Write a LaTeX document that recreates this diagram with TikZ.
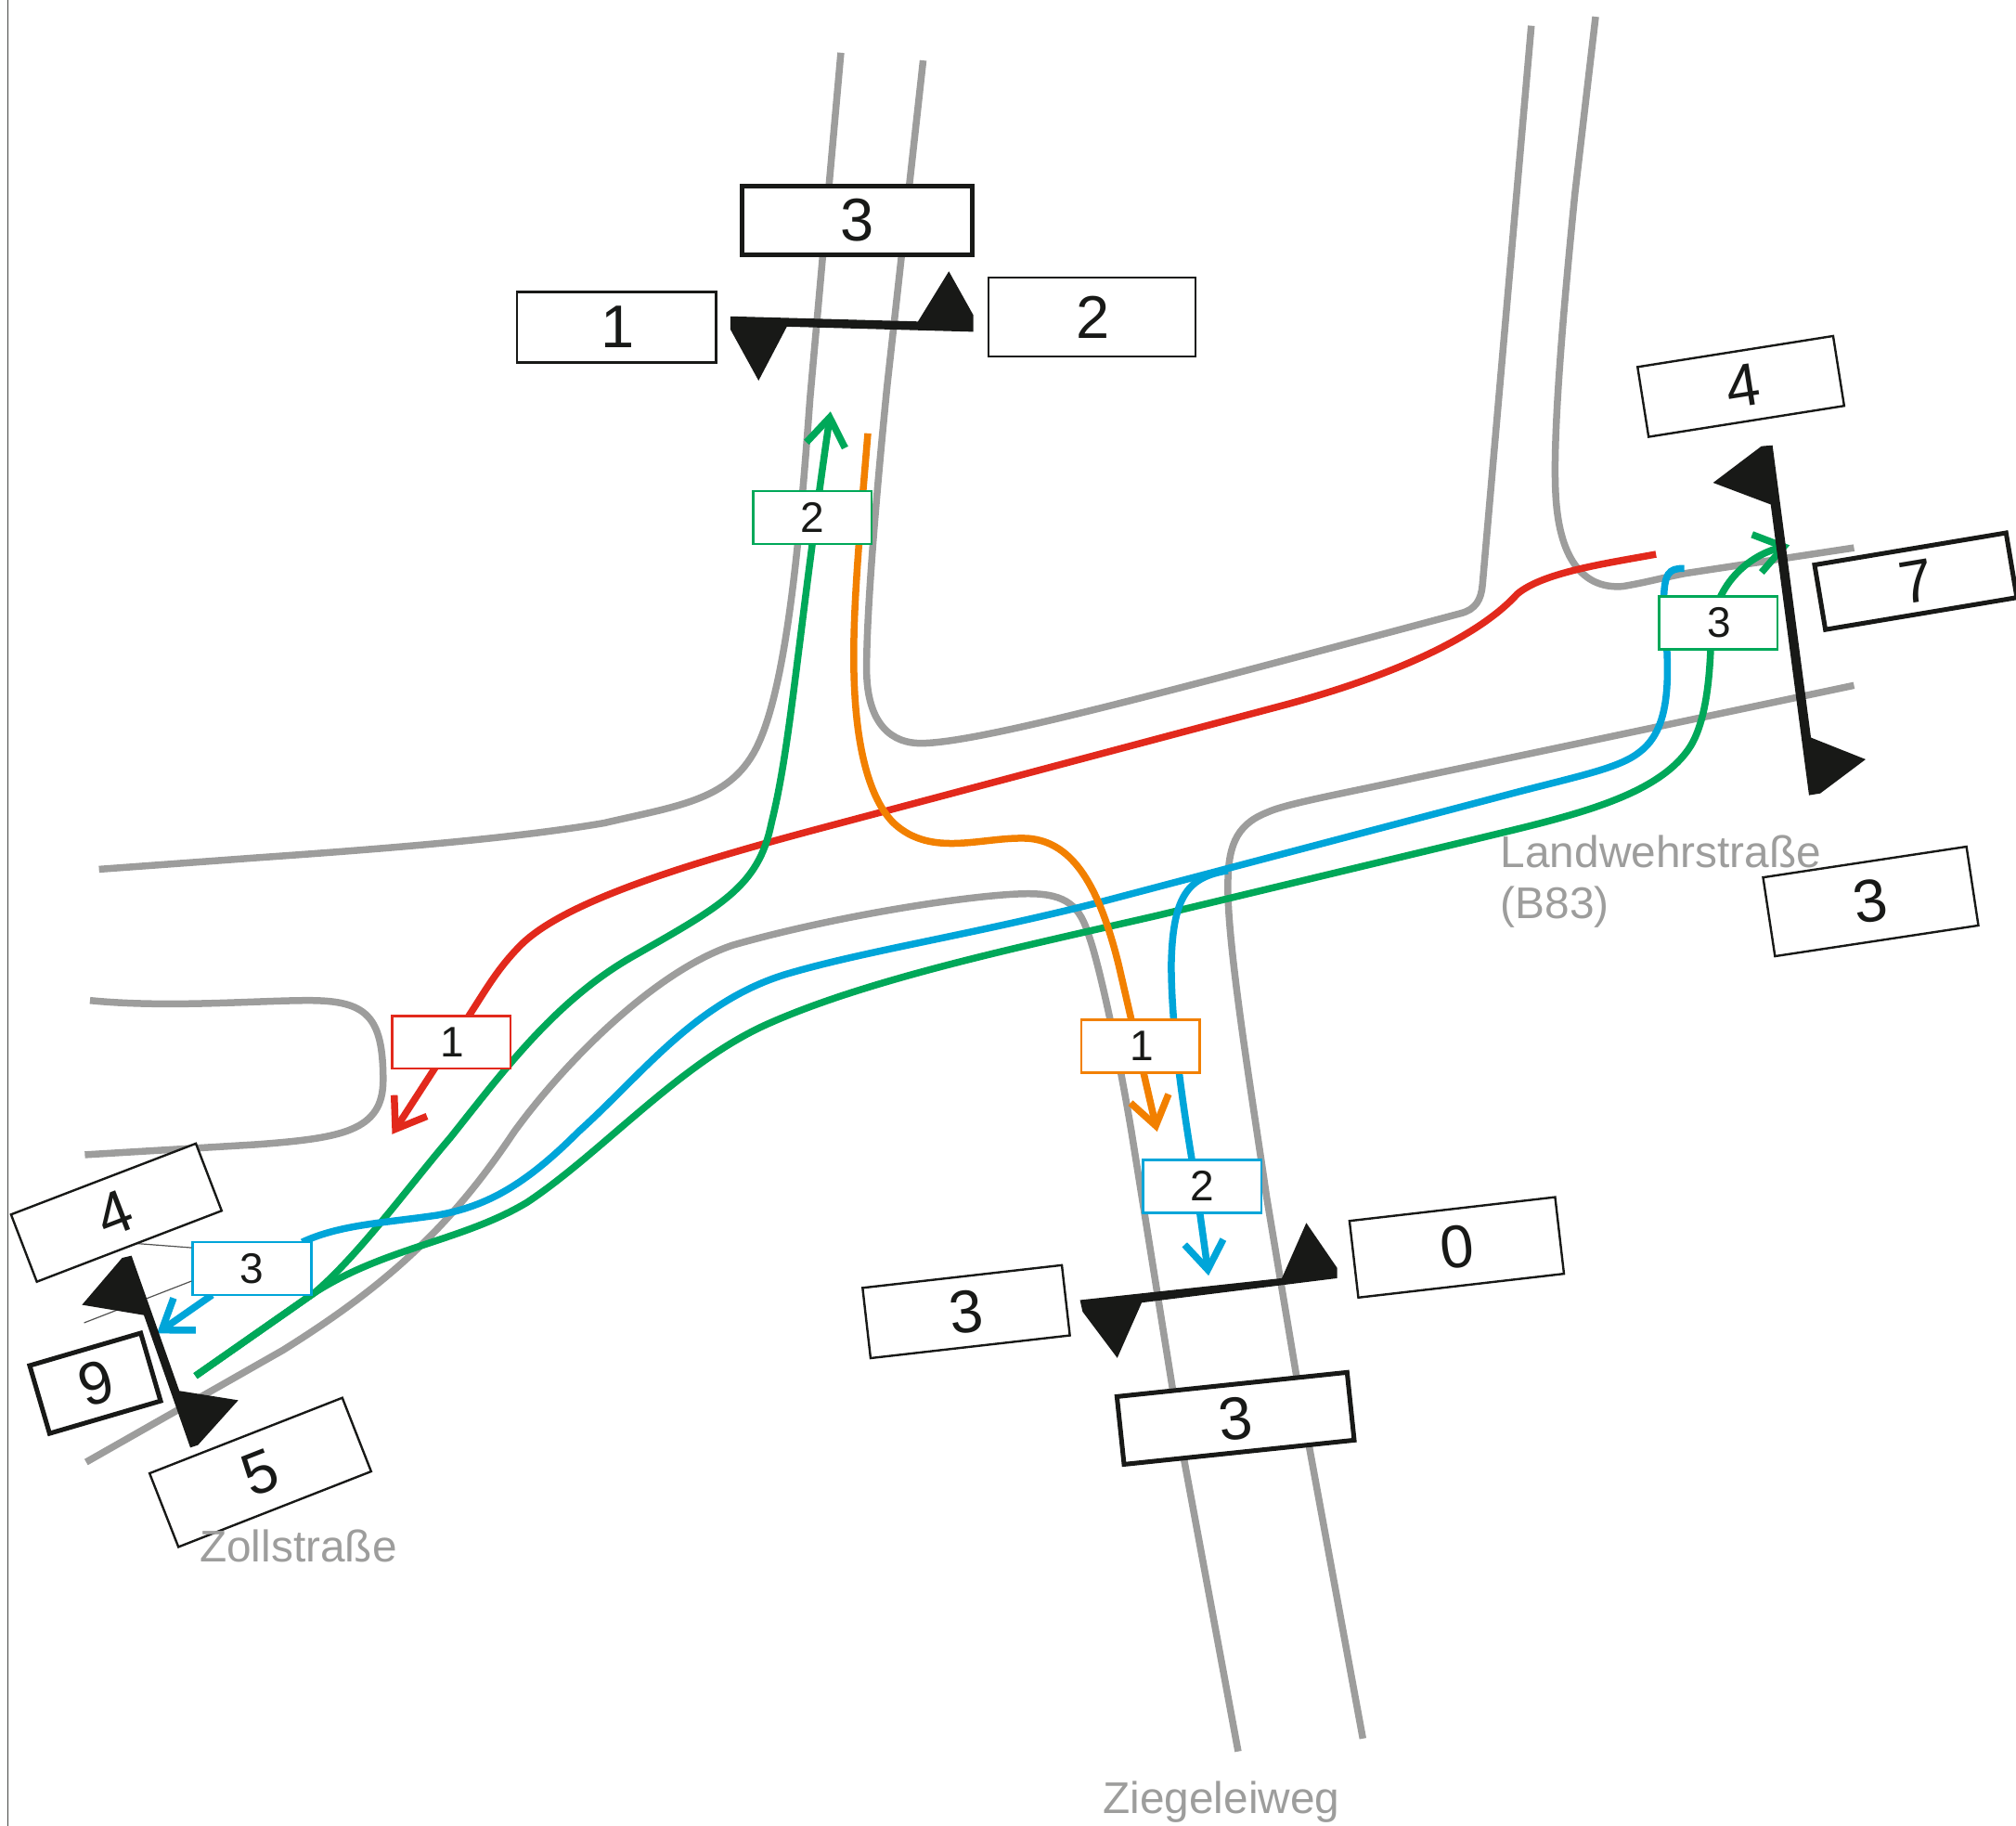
\documentclass[tikz,border=0pt]{standalone}
\usepackage{fontspec}
\setmainfont{Liberation Sans}
\usetikzlibrary{arrows.meta}
\definecolor{roadgray}{HTML}{9D9D9C}
\definecolor{cred}{HTML}{E2291C}
\definecolor{cgreen}{HTML}{00A859}
\definecolor{cblue}{HTML}{00A5D9}
\definecolor{corange}{HTML}{F28000}
\definecolor{cblack}{HTML}{181917}
\tikzset{
  road/.style={draw=roadgray,line width=7.5pt},
  route/.style={line width=7.5pt},
  routearrow/.style={-{Straight Barb[length=30pt,width=42pt,line width=7.5pt]}},
  bx/.style n args={3}{minimum width=#1*1.3852pt,minimum height=#2*1.3852pt,rotate=#3},
  bigbox/.style={draw=cblack,fill=white,line width=2.4pt,inner sep=0pt,text=cblack,font=\fontsize{65}{65}\selectfont},
  boldbox/.style={bigbox,line width=5pt},
  labelbox/.style={draw=#1,fill=white,line width=2.6pt,inner sep=0pt,text=cblack,font=\fontsize{46}{46}\selectfont,
     minimum width=92*1.3852pt,minimum height=41*1.3852pt},
  bar/.style={fill=cblack},
  thin line/.style={draw=cblack!75,line width=1.2pt},
  streetname/.style={text=roadgray,font=\fontsize{47.8}{56}\selectfont,inner sep=0pt},
}
\begin{document}
\begin{tikzpicture}[x=1.3852pt,y=-1.3852pt]
\useasboundingbox (0,0) rectangle (1568,1420);
\draw[draw=cblack!80,line width=1.5pt] (6,0) -- (6,1420);
% roads
\draw[road] (654,41) -- (630,310) .. controls (622,420) and (612,530) .. (590,578) .. controls (570,622) and (530,626) .. (470,640) .. controls (400,652) and (300,660) .. (200,667) -- (77,676);
\draw[road] (718,47) -- (690,300) .. controls (680,400) and (674,480) .. (674,520) .. controls (674,565) and (695,578) .. (716,578) .. controls (760,578) and (900,540) .. (1136,477) .. controls (1148,474) and (1152,466) .. (1153,455) -- (1191,20);
\draw[road] (1241,13) -- (1225,150) .. controls (1212,280) and (1208,350) .. (1210,385) .. controls (1213,440) and (1235,458) .. (1262,456) .. controls (1280,453) and (1290,450) .. (1310,446) -- (1442,426);
\draw[road] (1442,533) -- (1100,605) .. controls (1040,618) and (1000,625) .. (985,632) .. controls (960,642) and (955,660) .. (955,690) .. controls (955,740) and (975,860) .. (985,930) -- (1010,1080) -- (1060,1352);
\draw[road] (963,1362) -- (920,1130) -- (880,880) .. controls (870,820) and (855,750) .. (847,728) .. controls (840,705) and (830,695) .. (800,695) .. controls (760,695) and (650,712) .. (570,735) .. controls (510,755) and (440,825) .. (400,880) .. controls (350,955) and (300,1000) .. (220,1050) -- (67,1137);
\draw[road] (70,778) .. controls (130,784) and (200,778) .. (240,778) .. controls (285,778) and (298,790) .. (298,840) .. controls (298,880) and (265,885) .. (200,890) -- (66,898);
% anchors
\coordinate (t1a) at (106,967); \coordinate (t2a) at (65.4,1028.7);
\coordinate (gs) at (152,1070);
\coordinate (gn) at (646,320);
\coordinate (ge) at (1392,424);
\coordinate (rs) at (1288,431);
\coordinate (re) at (305,882);
\coordinate (os) at (675,337);
\coordinate (oe) at (900,880);
\coordinate (ba) at (122,1037);
\coordinate (bs) at (1310,442);
\coordinate (bj) at (955,677);
\coordinate (be) at (940,992);
% routes
\draw[route,draw=cred,routearrow] (rs) .. controls (1250,438) and (1200,445) .. (1180,462) .. controls (1150,495) and (1085,525) .. (1000,548) -- (650,641) .. controls (540,670) and (440,700) .. (405,735) .. controls (385,755) and (375,775) .. (360,797) -- (re);
\draw[route,draw=cgreen,routearrow] (gs) -- (245,1005) .. controls (280,975) and (320,920) .. (350,885) .. controls (390,835) and (430,780) .. (490,745) .. controls (560,705) and (590,690) .. (600,640) .. controls (615,580) and (620,500) .. (gn);
\draw[route,draw=cgreen,routearrow] (gs) -- (245,1005) .. controls (300,970) and (360,965) .. (410,935) .. controls (470,895) and (530,825) .. (600,795) .. controls (680,760) and (800,735) .. (900,712) -- (1150,652) .. controls (1220,635) and (1290,620) .. (1315,580) .. controls (1330,555) and (1330,510) .. (1331,495) .. controls (1332,455) and (1360,432) .. (ge);
\draw[route,draw=cblue] (bs) .. controls (1298,442) and (1294,445) .. (1294,470) .. controls (1298,520) and (1302,565) .. (1275,585) .. controls (1260,597) and (1230,603) .. (1180,616) -- (850,703) .. controls (750,728) and (670,740) .. (610,758) .. controls (540,780) and (500,835) .. (450,880) .. controls (410,920) and (380,938) .. (340,945) .. controls (300,951) and (265,952) .. (235,966);
\draw[route,draw=cblue,routearrow] (165,1007) -- (ba);
\draw[route,draw=cblue,routearrow] (bj) .. controls (925,682) and (912,695) .. (911,750) .. controls (911,800) and (920,860) .. (930,920) -- (be);
\draw[route,draw=corange,routearrow] (os) .. controls (668,420) and (664,470) .. (664,510) .. controls (664,590) and (680,625) .. (695,640) .. controls (725,668) and (765,650) .. (800,652) .. controls (835,655) and (855,690) .. (870,750) -- (885,815) -- (oe);
% route labels
\node[labelbox=cgreen] (lg2) at (632,402.5) {2};
\node[labelbox=cred] (lr1) at (351,810.5) {\hspace{3pt}1};
\node[labelbox=corange] (lo1) at (887,813.5) {\hspace{3pt}1};
\node[labelbox=cblue] (lb2) at (935,922.5) {\hspace{1pt}2};
\node[labelbox=cblue] (lb3) at (196,986.5) {3};
\node[labelbox=cgreen] (lg3) at (1336.5,484.5) {\hspace{1pt}3};
\draw[thin line] (t1a) -- (lb3.west |- 0,970.3);
\draw[thin line] (t2a) -- (lb3.west |- 0,996.2);
% count boxes
\node[boldbox,bx={179}{53}{0}] (n3) at (666.5,171.5) {3};
\node[bigbox,bx={155}{55}{0}] (n1) at (479.5,254.5) {\hspace{3pt}1};
\node[bigbox,bx={161}{61}{0}] (n2) at (849.5,246.5) {\hspace{1pt}2};
\node[bigbox,bx={154}{55}{9}] (e4) at (1354,300.5) {\hspace{4pt}4};
\node[boldbox,bx={151}{51}{9.5}] (e7) at (1490,452) {\hspace{1pt}7};
\node[bigbox,bx={160}{62}{8.6}] (e3) at (1455,701) {3};
\node[bigbox,bx={161}{60}{6.6}] (s0) at (1133,970) {0};
\node[bigbox,bx={156}{55}{6.5}] (s3) at (751.5,1020) {3};
\node[boldbox,bx={180}{53}{6}] (s3b) at (961,1103) {3};
\node[bigbox,bx={154}{56}{21}] (w4) at (90.5,943) {\hspace{-4pt}4};
\node[boldbox,bx={90}{55}{16.3}] (w9) at (74,1075.7) {\hspace{2pt}9};
\node[bigbox,bx={161}{61.5}{21.4}] (w5) at (202.5,1145) {5};
% bars
\fill[bar] (568,246) -- (714,250) -- (738,211) -- (757,245) -- (757,258) -- (612,254) -- (590,296) -- (568,256) -- cycle;
\fill[bar] (840,1011) -- (997,994) -- (1016,951) -- (1040,986) -- (1040,994) -- (888,1013) -- (869,1056) -- (842,1020) -- cycle;
\fill[bar] (1370,347) -- (1378.6,346.3) -- (1408.5,573.6) -- (1451,590.5) -- (1415.7,617) -- (1407,618.4) -- (1377.2,392.3) -- (1332.4,375.4) -- cycle;
\fill[bar] (95,978.2) -- (102.3,976.5) -- (139.5,1081.6) -- (185.3,1088.9) -- (154,1123.7) -- (148,1125.7) -- (111.9,1022.7) -- (63.8,1014.7) -- cycle;
% street names
\node[streetname,anchor=base west,align=left] (lw) at (1167,714) {Landwehrstraße\\[-1pt](B83)};
\node[streetname] (zo) at (232,1202) {Zollstraße};
\node[streetname] (zi) at (950,1401) {Ziegeleiweg};
\end{tikzpicture}
\end{document}
